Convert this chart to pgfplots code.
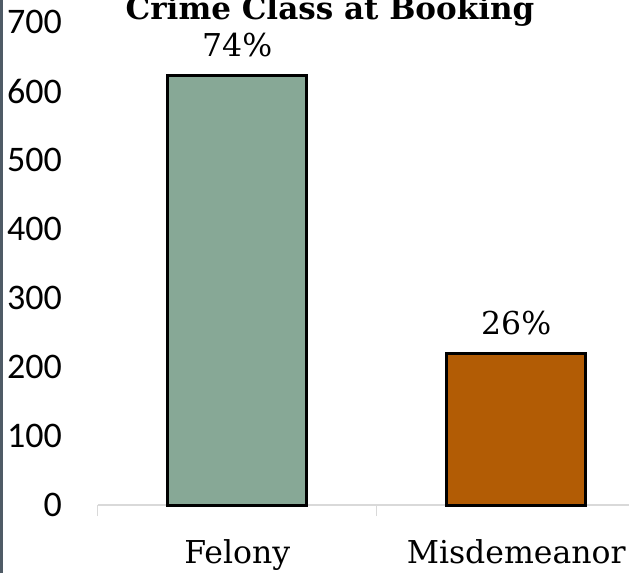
\documentclass[border=0pt]{standalone}
\usepackage{pgfplots}
\pgfplotsset{compat=1.18}
\usepackage{fontspec}
\setmainfont{DejaVu Serif}
\newfontfamily\tickfont{Carlito}
\definecolor{felony}{HTML}{87A896}
\definecolor{misd}{HTML}{B25C05}
\definecolor{axgray}{HTML}{D9D9D9}
\definecolor{border}{HTML}{4F5B66}
\begin{document}
\begin{tikzpicture}[x=1pt,y=1pt]
\useasboundingbox (0,0) rectangle (629,573);
\clip (0,0) rectangle (629,573);
\begin{axis}[
 at={(97.7pt,68pt)}, anchor=south west,
 scale only axis, width=558pt, height=483pt,
 xmin=-0.5, xmax=1.5, ymin=0, ymax=700,
 ytick={0,100,...,700},
 /pgf/number format/assume math mode=true,
 xtick={0,1}, xticklabels={Felony,Misdemeanor},
 major tick length=0pt,
 axis x line*=bottom, axis y line*=left,
 y axis line style={draw=none},
 x axis line style={draw=axgray, line width=1.5pt, -},
 yticklabel style={font=\tickfont\fontsize{36}{36}\selectfont, anchor=east, inner sep=0pt, xshift=-35.7pt},
 xticklabel style={font=\fontsize{31.5}{32}\selectfont, anchor=base, inner sep=0pt, yshift=-58pt},
 extra x ticks={-0.5,0.5,1.5}, extra x tick labels={},
 extra x tick style={major tick length=11pt, tick align=outside, tick style={draw=axgray, line width=1.5pt}},
 bar width=139.5pt,
 nodes near coords, point meta=explicit symbolic,
 nodes near coords style={font=\fontsize{31.5}{32}\selectfont, anchor=base, inner sep=0pt, yshift=19pt, text=black},
 clip=false,
]
\addplot[ybar, bar shift=0pt, fill=felony, draw=black, line width=3pt] coordinates {(0,622) [74\%]};
\addplot[ybar, bar shift=0pt, fill=misd, draw=black, line width=3pt] coordinates {(1,219) [26\%]};
\end{axis}
\node[font=\bfseries\fontsize{31}{31}\selectfont, anchor=base] at (330,553) {Crime Class at Booking};
\draw[border, line width=2.5pt] (1.5,0) -- (1.5,573);
\end{tikzpicture}
\end{document}
